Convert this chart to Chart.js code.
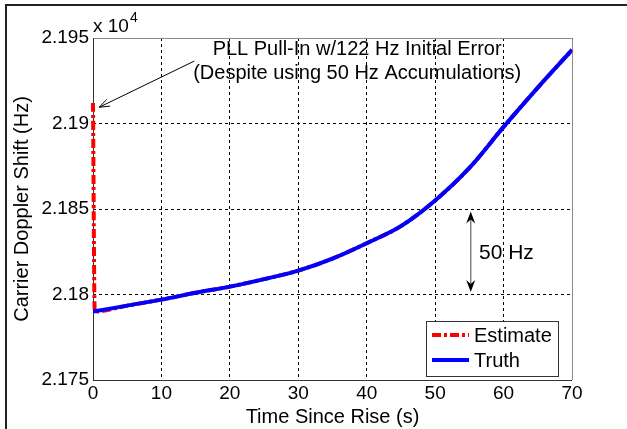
<!DOCTYPE html>
<html>
<head>
<meta charset="utf-8">
<script src="https://cdn.jsdelivr.net/npm/chart.js@4.4.1/dist/chart.umd.min.js"></script>
<style>
  html, body { margin: 0; padding: 0; background: #fff; }
  #wrap { position: relative; width: 627px; height: 429px; }
</style>
</head>
<body>
<div id="wrap"><canvas id="dopplerChart" width="627" height="429"></canvas></div>
<script>
// --- values ---
const timeSec = [0, 5, 10, 15, 20, 25, 30, 35, 40, 45, 50, 55, 60, 65, 70];
const truthHz = [21790, 21793.5, 21797, 21801, 21804.6, 21809, 21814, 21821, 21830, 21840, 21855, 21874, 21898, 21921, 21943];

// PLL estimate: starts 122 Hz high, pulls in almost immediately
const estimateTime = [0, 0.25, 5, 10, 15, 20, 25, 30, 35, 40, 45, 50, 55, 60, 65, 70];
const estimateHz = [21912, 21790, 21793.5, 21797, 21801, 21804.6, 21809, 21814, 21821, 21830, 21840, 21855, 21874, 21898, 21921, 21943];

const xTickValues = [0, 10, 20, 30, 40, 50, 60, 70];
const yTickValues = [21750, 21800, 21850, 21900, 21950];
const yTickLabels = ['2.175', '2.18', '2.185', '2.19', '2.195'];

const FONT = '"Liberation Sans", Arial, sans-serif';

const toPoints = (xs, ys) => xs.map((x, i) => ({ x: x, y: ys[i] }));

// arrow helpers
function drawOpenArrow(ctx, x1, y1, x2, y2) {
  const ang = Math.atan2(y2 - y1, x2 - x1);
  const len = 11, spread = 0.35;
  ctx.beginPath();
  ctx.moveTo(x1, y1);
  ctx.lineTo(x2, y2);
  ctx.moveTo(x2 - len * Math.cos(ang - spread), y2 - len * Math.sin(ang - spread));
  ctx.lineTo(x2, y2);
  ctx.lineTo(x2 - len * Math.cos(ang + spread), y2 - len * Math.sin(ang + spread));
  ctx.stroke();
}

function drawFilledHead(ctx, x, y, dir) {
  // dir = -1 points up, +1 points down
  const len = 12, half = 4.5;
  ctx.beginPath();
  ctx.moveTo(x, y);
  ctx.lineTo(x - half, y - dir * len);
  ctx.lineTo(x, y - dir * (len - 4));
  ctx.lineTo(x + half, y - dir * len);
  ctx.closePath();
  ctx.fill();
}

const figureDecor = {
  id: 'figureDecor',
  beforeDraw(chart) {
    const ctx = chart.ctx;
    ctx.save();
    ctx.fillStyle = '#fff';
    ctx.fillRect(0, 0, chart.width, chart.height);
    // outer figure frame (top and left edges only visible)
    ctx.strokeStyle = '#222';
    ctx.lineWidth = 2;
    ctx.beginPath();
    ctx.moveTo(627, 5);
    ctx.lineTo(6, 5);
    ctx.lineTo(6, 429);
    ctx.stroke();
    ctx.restore();
  },
  beforeDatasetsDraw(chart) {
    const { ctx, chartArea: a } = chart;
    ctx.save();
    ctx.lineWidth = 1;
    ctx.strokeStyle = '#8a8a8a';
    ctx.beginPath();
    ctx.moveTo(a.left, a.top + 0.5);
    ctx.lineTo(a.right + 0.5, a.top + 0.5);
    ctx.lineTo(a.right + 0.5, a.bottom);
    ctx.stroke();
    ctx.strokeStyle = '#333';
    ctx.beginPath();
    ctx.moveTo(a.left + 0.5, a.top);
    ctx.lineTo(a.left + 0.5, a.bottom + 0.5);
    ctx.lineTo(a.right, a.bottom + 0.5);
    ctx.stroke();
    ctx.restore();
  },
  afterDatasetsDraw(chart) {
    const { ctx } = chart;
    const xs = chart.scales.x, ys = chart.scales.y;
    ctx.save();

    // exponent label
    ctx.fillStyle = '#000';
    ctx.textBaseline = 'middle';
    ctx.textAlign = 'left';
    ctx.font = '19px ' + FONT;
    ctx.fillText('x 10', 93, 27);
    const w = ctx.measureText('x 10').width;
    ctx.font = '14px ' + FONT;
    ctx.fillText('4', 93 + w + 1, 18);

    // pull-in annotation
    ctx.font = '20px ' + FONT;
    ctx.textAlign = 'center';
    ctx.fillText('PLL Pull-In w/122 Hz Initial Error', xs.getPixelForValue(38.6), ys.getPixelForValue(21943));
    ctx.fillText('(Despite using 50 Hz Accumulations)', xs.getPixelForValue(38.6), ys.getPixelForValue(21929.5));
    ctx.strokeStyle = '#000';
    ctx.lineWidth = 1;
    drawOpenArrow(ctx,
      xs.getPixelForValue(14.8), ys.getPixelForValue(21936.5),
      xs.getPixelForValue(0.9), ys.getPixelForValue(21909.5));

    // 50 Hz span marker
    const ax = xs.getPixelForValue(55.2);
    const yTop = ys.getPixelForValue(21848.5);
    const yBot = ys.getPixelForValue(21801.5);
    ctx.strokeStyle = '#808080';
    ctx.lineWidth = 1.5;
    ctx.beginPath();
    ctx.moveTo(ax, yTop + 6);
    ctx.lineTo(ax, yBot - 6);
    ctx.stroke();
    ctx.fillStyle = '#000';
    drawFilledHead(ctx, ax, yTop, -1);
    drawFilledHead(ctx, ax, yBot, 1);
    ctx.font = '21px ' + FONT;
    ctx.textAlign = 'left';
    ctx.fillText('50 Hz', 479, ys.getPixelForValue(21824));

    // legend box inside the axes
    const box = { x: 426, y: 321, w: 132, h: 55 };
    ctx.fillStyle = '#fff';
    ctx.fillRect(box.x, box.y, box.w, box.h);
    ctx.strokeStyle = '#333';
    ctx.lineWidth = 1;
    ctx.strokeRect(box.x + 0.5, box.y + 0.5, box.w, box.h);
    const order = [1, 0];
    const rowsY = [335, 360];
    ctx.font = '20px ' + FONT;
    order.forEach((di, r) => {
      const ds = chart.data.datasets[di];
      ctx.strokeStyle = ds.borderColor;
      ctx.lineWidth = ds.borderWidth;
      ctx.setLineDash(ds.borderDash || []);
      ctx.beginPath();
      ctx.moveTo(432, rowsY[r]);
      ctx.lineTo(469, rowsY[r]);
      ctx.stroke();
      ctx.setLineDash([]);
      ctx.fillStyle = '#000';
      ctx.fillText(ds.label, 474, rowsY[r] + 1);
    });
    ctx.restore();
  }
};

new Chart(document.getElementById('dopplerChart'), {
  type: 'line',
  data: {
    datasets: [
      {
        label: 'Truth',
        data: toPoints(timeSec, truthHz),
        borderColor: '#0000ff',
        borderWidth: 4,
        pointRadius: 0,
        cubicInterpolationMode: 'monotone',
        fill: false
      },
      {
        label: 'Estimate',
        data: toPoints(estimateTime, estimateHz),
        borderColor: '#ff0000',
        borderWidth: 4,
        borderDash: [9, 3, 3, 3],
        pointRadius: 0,
        cubicInterpolationMode: 'monotone',
        clip: false,
        fill: false
      }
    ]
  },
  options: {
    responsive: false,
    animation: false,
    events: [],
    layout: { padding: { left: 0, right: 55, top: 38, bottom: 0 } },
    plugins: { legend: { display: false }, tooltip: { enabled: false } },
    scales: {
      x: {
        type: 'linear',
        min: 0,
        max: 70,
        afterBuildTicks: (s) => { s.ticks = xTickValues.map(v => ({ value: v })); },
        afterFit: (s) => { s.height = 49; },
        ticks: { color: '#000', font: { family: FONT, size: 19 }, padding: 2, maxRotation: 0 },
        grid: { color: '#000', lineWidth: 1, drawTicks: false },
        border: { display: false, dash: [3, 3] },
        title: { display: true, text: 'Time Since Rise (s)', color: '#000', font: { family: FONT, size: 20 }, padding: { top: 0, bottom: 0 } }
      },
      y: {
        type: 'linear',
        min: 21750,
        max: 21950,
        afterBuildTicks: (s) => { s.ticks = yTickValues.map(v => ({ value: v })); },
        afterFit: (s) => { s.width = 93; },
        ticks: {
          color: '#000',
          font: { family: FONT, size: 19 },
          padding: 4,
          callback: (v, i) => yTickLabels[i]
        },
        grid: { color: '#000', lineWidth: 1, drawTicks: false },
        border: { display: false, dash: [3, 3] },
        title: { display: true, text: 'Carrier Doppler Shift (Hz)', color: '#000', font: { family: FONT, size: 20 }, padding: { top: 10, bottom: 0 } }
      }
    }
  },
  plugins: [figureDecor]
});
</script>
</body>
</html>
